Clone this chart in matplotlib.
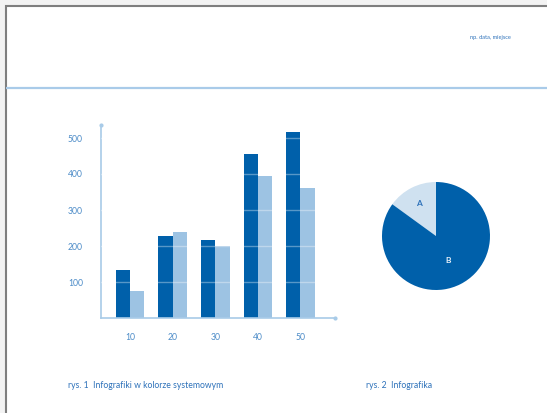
import numpy as np
import matplotlib
matplotlib.use('Agg')
import matplotlib.pyplot as plt
from matplotlib.patches import Rectangle

# ----------------------------
# Data
# ----------------------------
categories = ['10', '20', '30', '40', '50']
series_dark = [134, 228, 217, 455, 516]
series_light = [74, 240, 200, 394, 362]
y_ticks = [100, 200, 300, 400, 500]

pie_labels = ['A', 'B']
pie_values = [15, 85]

header_text = 'np. data, miejsce'
caption_1 = 'rys. 1  Infografiki w kolorze systemowym'
caption_2 = 'rys. 2  Infografika'

# ----------------------------
# Colours
# ----------------------------
DARK = '#0060aa'
LIGHT = '#9dc3e3'
PALE = '#cfe1f0'
AXIS = '#a8cbe8'
TICK_TXT = '#4d8cc8'
TXT = '#2e72ba'

plt.rcParams['font.family'] = ['Lato', 'DejaVu Sans']

W, H = 547, 413
fig = plt.figure(figsize=(W / 100, H / 100), dpi=100)

# ----------------------------
# Page decoration (pixel coords)
# ----------------------------
deco = fig.add_axes([0, 0, 1, 1], zorder=-1)
deco.set_xlim(0, W)
deco.set_ylim(H, 0)
deco.axis('off')
deco.add_patch(Rectangle((0, 0), W, H, color='#f3f3f3', lw=0))
deco.add_patch(Rectangle((6, 6), W, H, facecolor='white', edgecolor='#7f7f7f', lw=1.5))
deco.plot([6, W], [88, 88], color='#a9cbe9', lw=1.6, solid_capstyle='butt')
deco.text(490, 37, header_text, color=TXT, fontsize=4.1, ha='center', va='center')
deco.text(68, 386, caption_1, color=TXT, fontsize=6.2, ha='left', va='center')
deco.text(366, 386, caption_2, color=TXT, fontsize=6.2, ha='left', va='center')

# ----------------------------
# Bar chart
# ----------------------------
x0, x1, y0, y1 = 101, 335, 318, 125
ax = fig.add_axes([x0 / W, (H - y0) / H, (x1 - x0) / W, (y0 - y1) / H])
x = np.arange(len(categories))
bw = 0.335
ax.bar(x - bw / 2, series_dark, width=bw, color=DARK, zorder=2)
ax.bar(x + bw / 2, series_light, width=bw, color=LIGHT, zorder=2)
for v in y_ticks:
    ax.axhline(v, color='white', alpha=0.35, lw=1.0, zorder=3)

ax.set_xlim(-0.68, 4.81)
ax.set_ylim(0, (y0 - y1) / 36 * 100)
ax.set_xticks(x)
ax.set_xticklabels(categories)
ax.set_yticks(y_ticks)
ax.tick_params(length=0, colors=TICK_TXT, labelsize=6.2)
ax.tick_params(axis='y', pad=13)
ax.tick_params(axis='x', pad=11)
for s in ['top', 'right']:
    ax.spines[s].set_visible(False)
for s in ['left', 'bottom']:
    ax.spines[s].set_color(AXIS)
    ax.spines[s].set_linewidth(1.2)
ax.plot([0], [1], 'o', ms=2.0, color=AXIS, transform=ax.transAxes, clip_on=False)
ax.plot([1], [0], 'o', ms=2.0, color=AXIS, transform=ax.transAxes, clip_on=False)
ax.set_facecolor('none')

# ----------------------------
# Pie chart
# ----------------------------
cx, cy, r = 436, 236, 54
pax = fig.add_axes([(cx - r) / W, (H - cy - r) / H, 2 * r / W, 2 * r / H])
wedges, texts = pax.pie(pie_values, labels=pie_labels, colors=[PALE, DARK],
                        startangle=90, counterclock=True, labeldistance=0.6,
                        textprops=dict(fontsize=6, fontweight='bold'))
for w, t, d in zip(wedges, texts, [0.68, 0.5]):
    mid = np.deg2rad((w.theta1 + w.theta2) / 2)
    t.set_position((d * np.cos(mid), d * np.sin(mid)))
    t.set_ha('center')
    t.set_va('center')
texts[0].set_color(TXT)
texts[1].set_color('#e8f1f9')
pax.set_xlim(-1, 1)
pax.set_ylim(-1, 1)

fig.savefig('out.png', dpi=100)
